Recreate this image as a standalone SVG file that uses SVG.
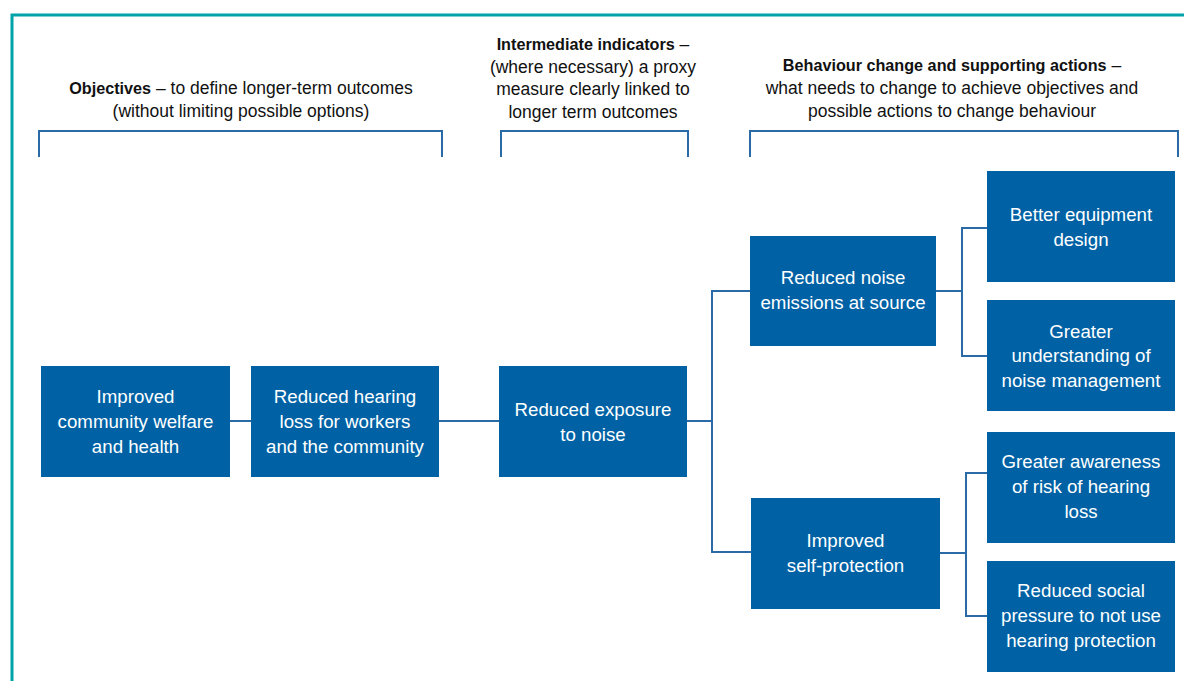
<svg xmlns="http://www.w3.org/2000/svg" width="1184" height="681" viewBox="0 0 1184 681">
<style>
.box{fill:#0062a5;}
.bt{font-family:"Liberation Sans",Arial,sans-serif;font-size:18.7px;fill:#ffffff;text-anchor:middle;}
.ht{font-family:"Liberation Sans",Arial,sans-serif;font-size:17.5px;fill:#111111;text-anchor:middle;}
.hb{font-weight:bold;font-size:16.2px;}
.con{fill:none;stroke:#2a6aa6;stroke-width:2;}
.br{fill:none;stroke:#2a6aa6;stroke-width:2;}
</style>
<rect width="1184" height="681" fill="#ffffff"/>
<path d="M12,690 L12,15 L1190,15" fill="none" stroke="#00a3a8" stroke-width="3"/>

<g id="headers">
<path class="br" d="M39,157 L39,131 L442,131 L442,157"/>
<path class="br" d="M501,157 L501,131 L688,131 L688,157"/>
<path class="br" d="M750,157 L750,131 L1178,131 L1178,157"/>
<text class="ht" x="241" y="94"><tspan class="hb">Objectives</tspan> – to define longer-term outcomes</text>
<text class="ht" x="241" y="117">(without limiting possible options)</text>
<text class="ht" x="593" y="50"><tspan class="hb">Intermediate indicators</tspan> –</text>
<text class="ht" x="593" y="73">(where necessary) a proxy</text>
<text class="ht" x="593" y="95">measure clearly linked to</text>
<text class="ht" x="593" y="118">longer term outcomes</text>
<text class="ht" x="952" y="71"><tspan class="hb">Behaviour change and supporting actions</tspan> –</text>
<text class="ht" x="952" y="94">what needs to change to achieve objectives and</text>
<text class="ht" x="952" y="117">possible actions to change behaviour</text>
</g>

<g id="connectors">
<path class="con" d="M230,421 L251,421"/>
<path class="con" d="M439,421 L499,421"/>
<path class="con" d="M687,421 L712,421"/>
<path class="con" d="M750,291 L712,291 L712,552 L751,552"/>
<path class="con" d="M936,291 L962,291"/>
<path class="con" d="M987,228 L962,228 L962,356 L987,356"/>
<path class="con" d="M940,553 L966,553"/>
<path class="con" d="M987,473 L966,473 L966,616 L987,616"/>
</g>

<g id="n1"><rect class="box" x="41" y="366" width="189" height="111"/>
<text class="bt" x="135.5" y="403">Improved</text><text class="bt" x="135.5" y="428">community welfare</text><text class="bt" x="135.5" y="453">and health</text></g>
<g id="n2"><rect class="box" x="251" y="366" width="188" height="111"/>
<text class="bt" x="345" y="403">Reduced hearing</text><text class="bt" x="345" y="428">loss for workers</text><text class="bt" x="345" y="453">and the community</text></g>
<g id="n3"><rect class="box" x="499" y="366" width="188" height="111"/>
<text class="bt" x="593" y="416">Reduced exposure</text><text class="bt" x="593" y="441">to noise</text></g>
<g id="n4"><rect class="box" x="750" y="236" width="186" height="110"/>
<text class="bt" x="843" y="284">Reduced noise</text><text class="bt" x="843" y="309">emissions at source</text></g>
<g id="n5"><rect class="box" x="751" y="498" width="189" height="111"/>
<text class="bt" x="845.5" y="547">Improved</text><text class="bt" x="845.5" y="572">self-protection</text></g>
<g id="n6"><rect class="box" x="987" y="171" width="188" height="111"/>
<text class="bt" x="1081" y="221">Better equipment</text><text class="bt" x="1081" y="246">design</text></g>
<g id="n7"><rect class="box" x="987" y="300" width="188" height="111"/>
<text class="bt" x="1081" y="338">Greater</text><text class="bt" x="1081" y="362">understanding of</text><text class="bt" x="1081" y="387">noise management</text></g>
<g id="n8"><rect class="box" x="987" y="432" width="188" height="111"/>
<text class="bt" x="1081" y="468">Greater awareness</text><text class="bt" x="1081" y="493">of risk of hearing</text><text class="bt" x="1081" y="518">loss</text></g>
<g id="n9"><rect class="box" x="987" y="561" width="188" height="111"/>
<text class="bt" x="1081" y="597">Reduced social</text><text class="bt" x="1081" y="622">pressure to not use</text><text class="bt" x="1081" y="647">hearing protection</text></g>
</svg>
